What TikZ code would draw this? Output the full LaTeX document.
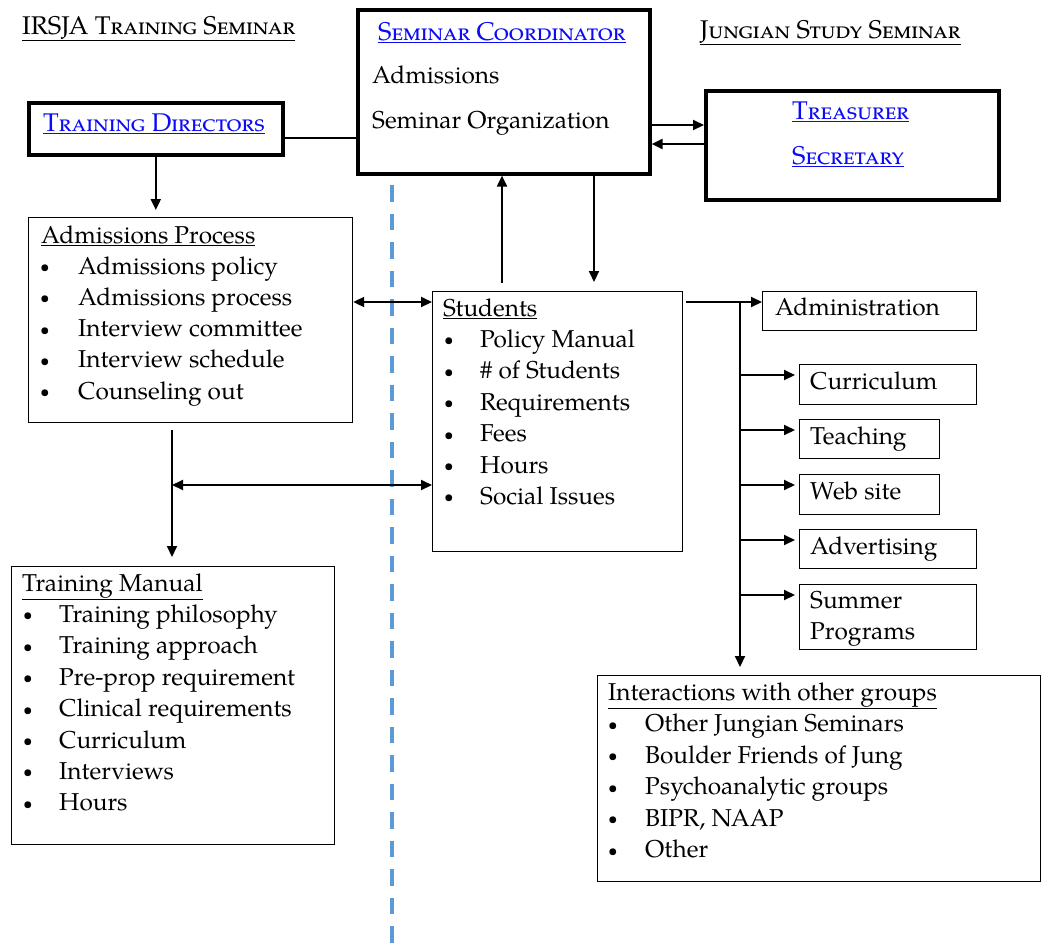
\documentclass[tikz,border=0pt]{standalone}
\usepackage{fontspec}
\setmainfont{texgyrepagella-regular.otf}
\usetikzlibrary{arrows.meta,calc}
\definecolor{linkblue}{RGB}{10,10,245}
\definecolor{sepblue}{RGB}{91,155,213}
\newcommand{\lnk}[1]{\textcolor{linkblue}{\underline{\textsc{#1}}}}
\newcommand{\smbul}{\raisebox{1.5pt}{\fontsize{17}{17}\selectfont\textbullet}}
\tikzset{
  every node/.style={font=\fontsize{24.4}{31}\selectfont},
  sc/.style={font=\fontsize{25.6}{31}\selectfont},
  heavybox/.style={draw, line width=3.6pt, inner sep=0pt, anchor=north west},
  lightbox/.style={draw, line width=1.2pt, inner sep=0pt, anchor=north west},
  txt/.style={anchor=base west, inner sep=0pt},
  bul/.style={anchor=base, inner sep=0pt},
  ln/.style={line width=2pt},
  arr/.style={line width=2pt, -{Triangle[length=11pt,width=10pt]}},
  darr/.style={line width=2pt, {Triangle[length=11pt,width=10pt]}-{Triangle[length=11pt,width=10pt]}},
  sep/.style={draw=sepblue, line width=3.6pt, dash pattern=on 16.5pt off 12pt}
}
\begin{document}
\begin{tikzpicture}[x=1pt,y=-1pt]
\useasboundingbox (0,0) rectangle (1041,945);
% separator
\coordinate (sepTop) at (392,185);
\coordinate (sepBot) at (392,945);
\draw[sep] (sepTop) -- (sepBot);
% titles
\node[txt, sc] (t1) at (22,34) {\underline{\textsc{IRSJA Training Seminar}}};
\node[txt, sc] (t2) at (700,38) {\underline{\textsc{Jungian Study Seminar}}};
% heavy boxes
\node[heavybox, minimum width=254pt, minimum height=52pt] (TD) at (27,101) {};
\node[heavybox, minimum width=292pt, minimum height=164pt] (SC) at (356,8) {};
\node[heavybox, minimum width=293pt, minimum height=109pt] (TS) at (704,89) {};
\node[anchor=base, inner sep=0pt, sc] (tdt) at (154,131) {\lnk{Training Directors}};
\node[txt, sc] (sct) at (378,40) {\lnk{Seminar Coordinator}};
\node[txt] (sc1) at (372,83) {Admissions};
\node[txt] (sc2) at (372,128) {Seminar Organization};
\node[txt, sc] (tst1) at (792,119) {\lnk{Treasurer}};
\node[txt, sc] (tst2) at (792,164) {\lnk{Secretary}};
% light boxes
\node[lightbox, minimum width=324pt, minimum height=205pt] (AP) at (28,217) {};
\node[lightbox, minimum width=250pt, minimum height=260pt] (ST) at (432,291) {};
\node[lightbox, minimum width=214pt, minimum height=39pt] (AD) at (762,291) {};
\node[lightbox, minimum width=177pt, minimum height=40pt] (CU) at (799,364) {};
\node[lightbox, minimum width=140pt, minimum height=39pt] (TE) at (799,419) {};
\node[lightbox, minimum width=140pt, minimum height=40pt] (WE) at (799,474) {};
\node[lightbox, minimum width=177pt, minimum height=39pt] (AV) at (799,529) {};
\node[lightbox, minimum width=177pt, minimum height=65pt] (SU) at (799,584) {};
\node[lightbox, minimum width=443pt, minimum height=206pt] (IN) at (597,675) {};
\node[lightbox, minimum width=323pt, minimum height=278pt] (TM) at (11,566) {};
% box texts
\node[txt] (apt) at (41,243) {\underline{Admissions Process}};
\foreach \t [count=\i] in {Admissions policy, Admissions process, Interview committee, Interview schedule, Counseling out}{
  \node[bul] (apb\i) at (45,243+31.2*\i) {\smbul};
  \node[txt] (api\i) at (78,243+31.2*\i) {\t};
}
\node[txt] (stt) at (443,316) {\underline{Students}};
\foreach \t [count=\i] in {Policy Manual, \# of Students, Requirements, Fees, Hours, Social Issues}{
  \node[bul] (stb\i) at (449,316+31.4*\i) {\smbul};
  \node[txt] (sti\i) at (480,316+31.4*\i) {\t};
}
\node[txt] (tmt) at (22,591) {\underline{Training Manual}};
\foreach \t [count=\i] in {Training philosophy, Training approach, Pre-prop requirement, Clinical requirements, Curriculum, Interviews, Hours}{
  \node[bul] (tmb\i) at (28,591+31.4*\i) {\smbul};
  \node[txt] (tmi\i) at (59,591+31.4*\i) {\t};
}
\node[txt] (int) at (608,700) {\underline{Interactions with other groups}};
\foreach \t [count=\i] in {Other Jungian Seminars, Boulder Friends of Jung, Psychoanalytic groups, {BIPR, NAAP}, Other}{
  \node[bul] (inb\i) at (613,700+31.5*\i) {\smbul};
  \node[txt] (ini\i) at (645,700+31.5*\i) {\t};
}
\node[txt] (adt) at (775,315) {Administration};
\node[txt] (cut) at (810,389) {Curriculum};
\node[txt] (tet) at (810,444) {Teaching};
\node[txt] (wet) at (810,499) {Web site};
\node[txt] (avt) at (810,554) {Advertising};
\node[txt] (sut1) at (810,608) {Summer};
\node[txt] (sut2) at (810,639) {Programs};
% connectors top
\draw[ln] ([yshift=-9pt]TD.east) -- ([yshift=-9pt]TD.east -| SC.west);
\draw[arr] (SC.east |- 0,125) -- (TS.west |- 0,125);
\draw[arr] (TS.west |- 0,144) -- (SC.east |- 0,144);
\coordinate (tdEnd) at ($(AP.north -| TD.south)+(0,-7)$);
\draw[arr] (TD.south) -- (tdEnd);
% students links
\coordinate (upStart) at (502,283);
\draw[arr] (upStart) -- (upStart |- SC.south);
\coordinate (downEnd) at (594,282);
\draw[arr] (downEnd |- SC.south) -- (downEnd);
\draw[darr] (AP.east |- 0,302) -- (ST.west |- 0,302);
% right tree
\coordinate (sOut) at (686,302);
\coordinate (vTop) at (740,302);
\draw[arr] (sOut) -- (sOut -| AD.west);
\coordinate (vEnd) at ($(vTop |- IN.north)+(0,-8)$);
\draw[arr] (vTop) -- (vEnd);
\foreach \b in {CU,TE,WE,AV,SU}{
  \coordinate (tip\b) at ($(\b.north west)+(-4,11)$);
  \draw[arr] (vTop |- tip\b) -- (tip\b);
}
% left tree
\coordinate (lTop) at (172,430);
\coordinate (lEnd) at ($(lTop |- TM.north)+(0,-9)$);
\draw[arr] (lTop) -- (lEnd);
\coordinate (lMid) at (172,485);
\draw[darr] (lMid) -- (lMid -| ST.west);
\end{tikzpicture}
\end{document}
